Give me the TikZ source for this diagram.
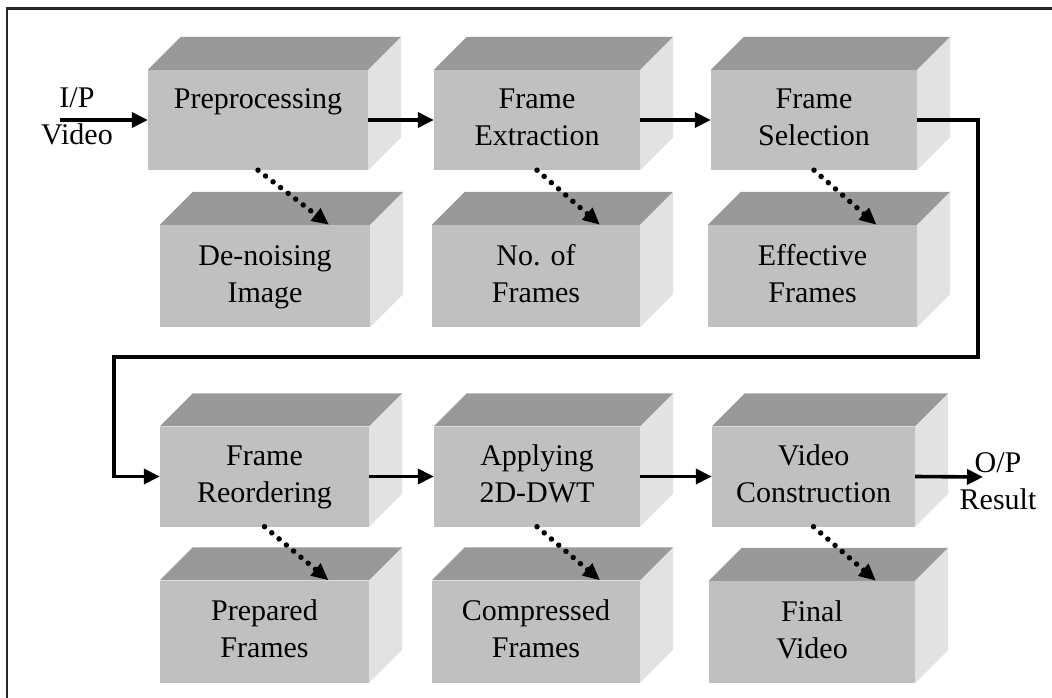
\documentclass[tikz,border=0pt]{standalone}
\usepackage{fontspec}
\setmainfont{Liberation Serif}
\usetikzlibrary{arrows.meta}
\definecolor{facefront}{RGB}{192,192,192}
\definecolor{facetop}{RGB}{153,153,153}
\definecolor{faceside}{RGB}{226,226,226}
\tikzset{
  cube/.style={rectangle,fill=facefront,inner sep=0pt,text width=196pt,align=center,
    font=\fontsize{30}{37}\selectfont},
  stage/.style={cube,minimum width=#1,minimum height=100pt,text height=39pt,text depth=61pt},
  stage/.default=206pt,
  product/.style={cube,minimum width=#1,minimum height=102pt,text height=40pt,text depth=62pt},
  product/.default=208pt,
  io/.style={text width=90pt,align=center,inner sep=0pt,anchor=base,
    font=\fontsize{30}{37}\selectfont},
  flow/.style={line width=3.6pt,-{Triangle[length=16pt,width=15pt]}},
  yields/.style={line width=5.5pt,line cap=round,dash pattern=on 0pt off 9.5pt,
    -{Triangle[length=17pt,width=15pt]}},
}
\begin{document}
\begin{tikzpicture}[x=1pt,y=-1pt]
\useasboundingbox (0,0) rectangle (1052,698);
\draw[line width=2.4pt,black!85] (7,698)--(7,8.5)--(1052,8.5);

% first row
\node[stage=220pt] (pre) at (258,120) {Preprocessing};
\node[stage] (ext) at (537,120) {Frame\\Extraction};
\node[stage] (sel) at (814,120) {Frame\\Selection};
\node[product=210pt] (den) at (265,276) {De-noising\\Image};
\node[product] (num) at (536,276) {No.\ of\\Frames};
\node[product=209pt] (eff) at (812.5,276) {Effective\\Frames};

% second row
\node[stage=209pt] (reo) at (264.5,476.5) {Frame\\Reordering};
\node[stage] (dwt) at (537,476.5) {Applying\\2D-DWT};
\node[stage=203pt] (con) at (813.5,476.5) {Video\\Construction};
\node[product=209pt] (prep) at (264.5,631.5) {Prepared\\Frames};
\node[product] (comp) at (536,631.5) {Compressed\\Frames};
\node[product=206pt] (fin) at (812,632) {Final\\Video};

% top and side faces
\foreach \b in {pre,ext,sel,den,num,eff,reo,dwt,con,prep,comp,fin} {
  \fill[facetop] (\b.north west)--++(33,-33)--([shift={(33,-33)}]\b.north east)--(\b.north east)--cycle;
  \fill[faceside] (\b.north east)--++(33,-33)--([shift={(33,-33)}]\b.south east)--(\b.south east)--cycle;
}

\node[io] (ip) at (77,108) {I/P\\Video};
\node[io] (op) at (998,472) {O/P\\Result};
\coordinate (vin) at (60,120);
\coordinate (vout) at (983,477);
\coordinate (r1) at (978,357);
\coordinate (r2) at (114,357);

\draw[flow] (vin)--(pre);
\draw[flow] (pre)--(ext);
\draw[flow] (ext)--(sel);
\draw[flow] (sel.east)-|(r1)--(r2)|-(reo.west);
\draw[flow] (reo)--(dwt);
\draw[flow] (dwt)--(con);
\draw[flow] (con.east)--(vout);

\draw[yields] (pre.south)--([xshift=64pt]den.north);
\draw[yields] (ext.south)--([xshift=64pt]num.north);
\draw[yields] (sel.south)--([xshift=64pt]eff.north);
\draw[yields] (reo.south)--([xshift=64pt]prep.north);
\draw[yields] (dwt.south)--([xshift=64pt]comp.north);
\draw[yields] (con.south)--([xshift=64pt]fin.north);
\end{tikzpicture}
\end{document}
